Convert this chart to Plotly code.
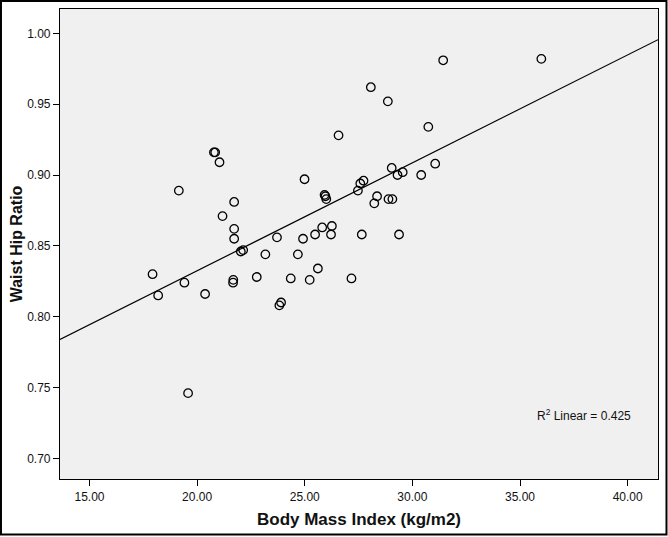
import plotly.graph_objects as go

# Data
bmi = [17.93, 18.19, 19.15, 19.41, 19.58, 20.37, 20.78, 20.84, 21.04, 21.18,
       21.72, 21.72, 21.72, 21.67, 21.68, 22.03, 22.14, 22.77, 23.17, 23.71,
       23.82, 23.90, 24.35, 24.68, 24.92, 24.99, 25.23, 25.48, 25.61, 25.81,
       25.92, 25.96, 26.00, 26.22, 26.26, 26.57, 27.17, 27.47, 27.58, 27.73,
       27.65, 28.07, 28.23, 28.36, 28.86, 28.89, 29.07, 29.04, 29.31, 29.38,
       29.55, 30.41, 30.74, 31.06, 31.43, 35.99]
whr = [0.830, 0.815, 0.889, 0.824, 0.746, 0.816, 0.916, 0.916, 0.909, 0.871,
       0.881, 0.862, 0.855, 0.824, 0.826, 0.846, 0.847, 0.828, 0.844, 0.856,
       0.808, 0.810, 0.827, 0.844, 0.855, 0.897, 0.826, 0.858, 0.834, 0.863,
       0.886, 0.885, 0.883, 0.858, 0.864, 0.928, 0.827, 0.889, 0.894, 0.896,
       0.858, 0.962, 0.880, 0.885, 0.952, 0.883, 0.883, 0.905, 0.900, 0.858,
       0.902, 0.900, 0.934, 0.908, 0.981, 0.982]

fit_intercept = 0.680
fit_slope = 0.00762
r2_label = "R<sup>2</sup> Linear = 0.425"

x_ticks = [15, 20, 25, 30, 35, 40]
y_ticks = [0.70, 0.75, 0.80, 0.85, 0.90, 0.95, 1.00]
x_range = [13.63, 41.41]
y_range = [0.6854, 1.0172]

font_family = "Liberation Sans, Arial, sans-serif"

fit_x = x_range
fit_y = [fit_intercept + fit_slope * v for v in fit_x]

fig = go.Figure()
fig.add_trace(go.Scatter(
    x=fit_x, y=fit_y, mode="lines",
    line=dict(color="black", width=1.2),
    showlegend=False, hoverinfo="skip"))
fig.add_trace(go.Scatter(
    x=bmi, y=whr, mode="markers",
    marker=dict(symbol="circle-open", size=8.5, color="black",
                line=dict(color="black", width=1.3)),
    showlegend=False))

fig.add_annotation(
    x=0.794, y=0.136, xref="paper", yref="paper",
    text=r2_label, showarrow=False, xanchor="left", yanchor="middle",
    font=dict(family=font_family, size=12, color="#111"))

# outer frame around the whole picture
fig.add_shape(type="rect", xref="paper", yref="paper",
              x0=-0.0987, x1=1.0142, y0=-0.1181, y1=1.017,
              line=dict(color="black", width=2), fillcolor="rgba(0,0,0,0)",
              layer="above")

fig.update_layout(
    width=668, height=537,
    margin=dict(l=60, r=10, t=9, b=58, autoexpand=False),
    paper_bgcolor="white", plot_bgcolor="#f0f0f0",
    font=dict(family=font_family, color="#111"),
    xaxis=dict(
        range=x_range, tickvals=x_ticks, tickformat=".2f", automargin=False,
        showgrid=False, zeroline=False,
        showline=True, mirror=True, linecolor="black", linewidth=1.2,
        ticks="outside", ticklen=6, tickwidth=1.2, tickcolor="black",
        tickfont=dict(size=12, color="#111"),
        title=dict(text="<b>Body Mass Index (kg/m2)</b>",
                   font=dict(size=17, color="#111"), standoff=10)),
    yaxis=dict(
        range=y_range, tickvals=y_ticks, tickformat=".2f", automargin=False,
        showgrid=False, zeroline=False,
        showline=True, mirror=True, linecolor="black", linewidth=1.2,
        ticks="outside", ticklen=6, tickwidth=1.2, tickcolor="black",
        tickfont=dict(size=12, color="#111"),
        title=dict(text="<b>Waist Hip Ratio</b>",
                   font=dict(size=16, color="#111"), standoff=0)),
)

fig.write_html("out.html", config={"displayModeBar": False})

# remove the browser's default page margin so the figure fills the window
with open("out.html", "r", encoding="utf-8") as f:
    html = f.read()
html = html.replace("<head>", "<head><style>html,body{margin:0;padding:0;overflow:hidden;}</style>", 1)
with open("out.html", "w", encoding="utf-8") as f:
    f.write(html)
